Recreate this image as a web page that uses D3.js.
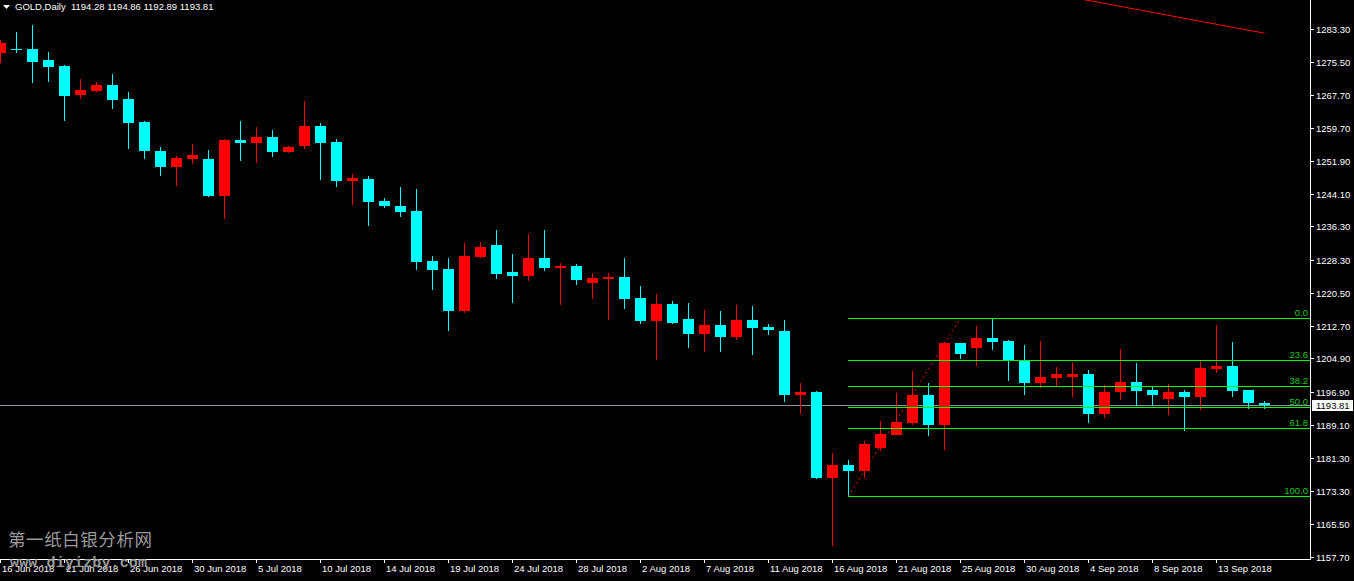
<!DOCTYPE html>
<html><head><meta charset="utf-8">
<script src="https://cdn.jsdelivr.net/npm/d3@7"></script>
<style>html,body{margin:0;padding:0;background:#000;overflow:hidden}</style>
</head><body><svg id="c" width="1354" height="581"></svg>
<script>
const symbolTitle = "GOLD,Daily";
const lastQuote = [1194.28, 1194.86, 1192.89, 1193.81];
const opens = [1277.59,1278.6,1278.54,1275.92,1274.49,1267.59,1268.54,1269.97,1266.64,1261.16,
1254.26,1250.45,1252.36,1252.36,1243.55,1256.88,1256.17,1257.59,1254.02,1255.45,
1260.21,1256.40,1247.12,1247.60,1242.36,1241.17,1239.98,1228.08,1226.18,1216.18,
1229.03,1231.89,1225.46,1224.51,1228.80,1226.42,1226.89,1222.85,1223.80,1224.27,
1219.28,1213.80,1217.85,1214.28,1210.71,1212.85,1210.00,1214.04,1212.37,1211.42,
1196.19,1196.90,1176.44,1179.53,1178.10,1183.58,1186.67,1189.53,1196.19,1189.05,
1208.57,1207.38,1209.76,1209.04,1204.28,1199.05,1200.24,1200.47,1201.19,1191.67,
1196.90,1199.28,1197.38,1195.24,1196.90,1195.71,1202.38,1203.09,1197.38,1194.28];
const highs = [1280.68,1282.58,1284.25,1277.83,1274.73,1271.40,1270.68,1272.59,1268.30,1261.40,
1255.21,1253.07,1255.93,1254.50,1257.12,1261.40,1259.97,1259.26,1255.45,1266.16,
1260.93,1257.12,1248.79,1248.31,1243.08,1245.69,1245.22,1229.27,1228.80,1232.37,
1232.60,1235.46,1229.75,1234.51,1235.46,1227.61,1227.37,1225.23,1225.23,1228.80,
1222.13,1220.23,1218.56,1218.09,1216.42,1216.18,1217.61,1217.37,1213.09,1214.04,
1199.05,1197.14,1182.39,1180.72,1185.24,1189.94,1196.67,1201.90,1199.05,1208.80,
1208.57,1212.61,1214.45,1209.28,1208.09,1209.04,1202.85,1204.04,1202.14,1198.57,
1207.14,1203.81,1198.09,1198.81,1197.38,1204.28,1212.85,1208.80,1197.38,1194.86];
const lows = [1275.21,1277.59,1270.45,1270.68,1261.40,1266.64,1268.30,1264.26,1254.74,1252.36,
1248.31,1245.93,1251.17,1243.31,1238.08,1251.88,1251.41,1252.83,1253.80,1254.74,
1247.36,1245.69,1241.41,1236.41,1240.70,1238.55,1225.94,1221.18,1211.42,1215.71,
1228.80,1223.80,1218.09,1223.32,1225.70,1217.61,1222.37,1219.04,1214.04,1216.66,
1213.09,1204.52,1213.09,1207.38,1206.42,1206.42,1209.28,1205.71,1210.47,1194.52,
1191.67,1176.30,1160.25,1172.05,1176.44,1182.86,1186.67,1189.05,1186.43,1183.10,
1204.76,1203.09,1206.90,1199.52,1196.19,1197.86,1198.33,1195.71,1189.53,1190.72,
1195.00,1193.57,1193.81,1191.43,1187.62,1192.62,1201.43,1195.71,1192.86,1192.89];
const closes = [1279.97,1278.4,1275.44,1274.25,1267.35,1268.78,1269.97,1266.40,1260.93,1254.26,
1250.45,1252.60,1253.31,1243.55,1256.88,1256.17,1257.59,1254.02,1255.21,1260.21,
1256.17,1247.12,1247.84,1242.12,1241.17,1239.74,1227.84,1225.94,1216.18,1229.27,
1231.41,1224.99,1224.51,1228.80,1226.42,1226.89,1223.56,1224.04,1224.27,1219.04,
1213.80,1217.85,1213.33,1210.71,1212.85,1210.00,1214.04,1212.14,1211.66,1196.19,
1196.90,1176.44,1179.53,1178.10,1184.53,1186.91,1189.76,1196.19,1189.05,1208.57,
1205.95,1209.76,1208.80,1204.52,1199.05,1200.47,1201.19,1201.19,1191.67,1196.90,
1199.28,1197.14,1196.19,1196.90,1195.71,1202.62,1203.09,1197.14,1194.30,1193.81];
const dateLabels = ["16 Jun 2018","21 Jun 2018","26 Jun 2018","30 Jun 2018","5 Jul 2018","10 Jul 2018","14 Jul 2018","19 Jul 2018","24 Jul 2018","28 Jul 2018","2 Aug 2018","7 Aug 2018","11 Aug 2018","16 Aug 2018","21 Aug 2018","25 Aug 2018","30 Aug 2018","4 Sep 2018","8 Sep 2018","13 Sep 2018"];
const dateLabelBars = [0,4,8,12,16,20,24,28,32,36,40,44,48,52,56,60,64,68,72,76];
const priceTicks = [1283.30,1275.50,1267.70,1259.70,1251.90,1244.10,1236.30,1228.30,1220.50,1212.70,1204.90,1196.90,1189.10,1181.30,1173.30,1165.50,1157.70];
const fibLevels = [0.0, 23.6, 38.2, 50.0, 61.8, 100.0];
const fibHigh = 1214.45, fibLow = 1172.05, fibStartBar = 53, fibBaseEndBar = 60;
const trendBars = [66, 79];
const trendPrices = [1291.5, 1282.3];
const watermarkCN = "第一纸白银分析网";
const watermarkURL = "www.diyizby.com";

const W = 1354, H = 581, plotR = 1310, plotB = 559;
const svg = d3.select("#c");
svg.append("rect").attr("width", W).attr("height", H).attr("fill", "#000");
svg.append("defs").append("clipPath").attr("id","clip").append("rect")
  .attr("x",0).attr("y",0).attr("width",plotR).attr("height",plotB);

const x = d3.scaleLinear().domain([0, 79]).range([0.5, 1264.5]);
const y = d3.scaleLinear().domain([1157.7, 1283.3]).range([556.7, 29]);
const font = "'Liberation Sans', Arial, sans-serif";

const plot = svg.append("g").attr("clip-path","url(#clip)");

// bid line
const bid = lastQuote[3];
plot.append("line").attr("x1",0).attr("x2",plotR).attr("y1",Math.round(y(bid))+0.5).attr("y2",Math.round(y(bid))+0.5)
  .attr("stroke","#8a97a8").attr("stroke-width",1);

// candles
const bars = d3.range(opens.length).map(i => ({i, o:opens[i], h:highs[i], l:lows[i], c:closes[i]}));
const cg = plot.append("g").attr("shape-rendering","crispEdges");
bars.forEach(d => {
  const col = d.c >= d.o ? "#ff0000" : "#00ffff";
  const cx = Math.floor(x(d.i));
  cg.append("rect").attr("x", cx).attr("width",1)
    .attr("y", Math.round(y(d.h))).attr("height", Math.max(1, Math.round(y(d.l)) - Math.round(y(d.h))))
    .attr("fill", col);
  const top = Math.round(y(Math.max(d.o,d.c))), bot = Math.round(y(Math.min(d.o,d.c)));
  cg.append("rect").attr("x", cx-5).attr("width",11)
    .attr("y", top).attr("height", Math.max(1, bot-top)).attr("fill", col);
});

// fib base dotted line
plot.append("line").attr("x1", x(fibStartBar)).attr("y1", y(fibLow))
  .attr("x2", x(fibBaseEndBar)).attr("y2", y(fibHigh))
  .attr("stroke","#ff0000").attr("stroke-width",1).attr("stroke-dasharray","2,3");

// fib levels
const fg = plot.append("g");
fibLevels.forEach(r => {
  const p = fibHigh - r/100*(fibHigh - fibLow);
  const yy = Math.round(y(p)) + 0.5;
  fg.append("line").attr("x1", Math.floor(x(fibStartBar))).attr("x2", plotR).attr("y1", yy).attr("y2", yy)
    .attr("stroke","#00ff00").attr("stroke-width",1).attr("shape-rendering","crispEdges");
  fg.append("text").attr("x", plotR-2).attr("y", yy-2.5).attr("text-anchor","end")
    .attr("font-family",font).attr("font-size","9.5px").attr("fill","#1ec81e").text(r.toFixed(1));
});

// trend line
plot.append("line").attr("x1", x(trendBars[0])).attr("y1", y(trendPrices[0]))
  .attr("x2", x(trendBars[1])).attr("y2", y(trendPrices[1]))
  .attr("stroke","#ff0000").attr("stroke-width",1);

// frame
svg.append("line").attr("x1",plotR+0.5).attr("x2",plotR+0.5).attr("y1",0).attr("y2",plotB+0.5).attr("stroke","#fff");
svg.append("line").attr("x1",0).attr("x2",plotR+0.5).attr("y1",plotB+0.5).attr("y2",plotB+0.5).attr("stroke","#fff");

// price axis
const pa = svg.append("g");
priceTicks.forEach(v => {
  const yy = Math.round(y(v)) + 0.5;
  pa.append("line").attr("x1",plotR+1).attr("x2",plotR+4).attr("y1",yy).attr("y2",yy).attr("stroke","#fff");
  pa.append("text").attr("x",plotR+6).attr("y",yy+3.5).attr("font-family",font).attr("font-size","9.5px")
    .attr("fill","#fff").text(v.toFixed(2));
});
// current price box
const by = y(bid);
pa.append("rect").attr("x",plotR+2).attr("y",Math.round(by)-5).attr("width",W-plotR-3).attr("height",11).attr("fill","#fff");
pa.append("text").attr("x",plotR+6).attr("y",Math.round(by)+4).attr("font-family",font).attr("font-size","9.5px")
  .attr("fill","#000").text(bid.toFixed(2));

// date axis
const da = svg.append("g");
dateLabels.forEach((t, k) => {
  const xx = Math.floor(x(dateLabelBars[k])) + 0.5;
  da.append("line").attr("x1",xx).attr("x2",xx).attr("y1",plotB+1).attr("y2",plotB+4).attr("stroke","#fff");
  da.append("text").attr("x",xx+1.5).attr("y",572).attr("font-family",font).attr("font-size","9.5px")
    .attr("fill","#fff").text(t);
});

// title
svg.append("path").attr("d","M3,5 L10,5 L6.5,9 Z").attr("fill","#fff");
svg.append("text").attr("x",15).attr("y",10).attr("font-family",font).attr("font-size","9.5px").attr("fill","#fff")
  .attr("xml:space","preserve")
  .text(symbolTitle + "  " + lastQuote.map(v=>v.toFixed(2)).join(" "));

// watermark
svg.append("text").attr("x",8).attr("y",546).attr("font-family","'Noto Sans CJK SC', sans-serif")
  .attr("font-size","17.5px").attr("fill","#9a9a9a").attr("textLength",144).text(watermarkCN);
svg.append("text").attr("x",10).attr("y",567).attr("font-family","'Liberation Mono', monospace")
  .attr("font-size","15px").attr("font-weight","bold").attr("fill","#9a9a9a").attr("textLength",137)
  .text(watermarkURL);
</script></body></html>
